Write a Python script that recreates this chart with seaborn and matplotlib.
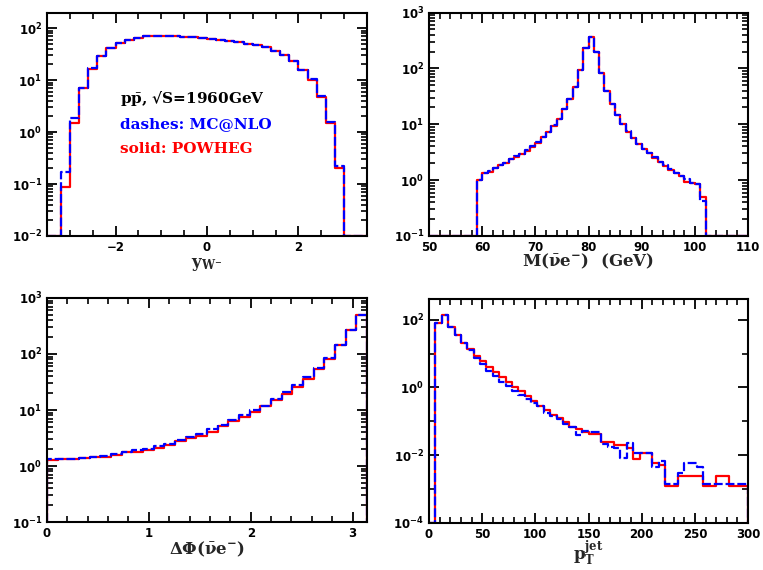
"""
W- production at the Tevatron: MC@NLO (dashes) vs POWHEG (solid).
Four step histograms on log scales, read off the reference figure.
"""

import numpy as np
import seaborn as sns
import matplotlib
matplotlib.use("Agg")
import matplotlib.pyplot as plt
from matplotlib.ticker import MultipleLocator, FixedLocator, NullFormatter

# ---- data -------------------------------------------------------------
# rapidity of the W-, bins of 0.2 from -3.2 to 3.0
yw_edges = np.round(np.arange(-3.2, 3.01, 0.2), 2)
yw_mcnlo = [0.17, 1.87, 7.1, 16.8, 29, 41, 51, 59, 66, 70, 72, 72, 71, 69, 67, 64,
            61, 59, 57, 54, 50, 47, 43, 37, 31, 23.5, 16, 10.4, 4.9, 1.55, 0.22]
yw_powheg = [0.087, 1.5, 7.0, 16.5, 28.5, 41, 51, 59, 66, 70, 72, 72, 71, 69, 67, 64,
             61, 59, 57, 54, 50, 47, 43, 37, 31, 23.5, 16, 10.2, 4.8, 1.5, 0.2]

# transverse mass of the lepton pair, 1 GeV bins from 59 to 102
mass_edges = np.arange(59, 103, 1)
mass_mcnlo = [1.02, 1.35, 1.44, 1.66, 1.9, 2.04, 2.34, 2.65, 2.88, 3.4, 4.0, 4.8,
              5.9, 7.3, 9.6, 12.6, 18.6, 27.9, 47, 94, 230, 360, 193, 82, 40, 22.6,
              14.5, 10.0, 7.6, 5.75, 4.5, 3.65, 3.05, 2.58, 2.1, 1.88, 1.59, 1.35,
              1.2, 1.05, 0.88, 0.85, 0.42]
mass_powheg = [1.02, 1.35, 1.40, 1.66, 1.85, 2.04, 2.34, 2.6, 2.88, 3.3, 3.9, 4.7,
               5.9, 7.3, 9.3, 12.6, 18.6, 27.9, 47, 94, 230, 360, 193, 82, 40, 22.6,
               14.5, 10.0, 7.4, 5.75, 4.4, 3.6, 3.0, 2.45, 2.1, 1.76, 1.5, 1.35,
               1.2, 0.92, 0.88, 0.85, 0.5]

# azimuthal separation, 30 bins between 0 and pi
dphi_edges = np.linspace(0, np.pi, 31)
dphi_mcnlo = [1.32, 1.35, 1.35, 1.4, 1.45, 1.5, 1.67, 1.8, 1.9, 2.05, 2.25, 2.45,
              2.9, 3.3, 3.8, 4.5, 5.5, 6.7, 8.0, 10.0, 12.0, 16.0, 21, 28, 39, 57,
              86, 145, 270, 500]
dphi_powheg = [1.28, 1.35, 1.33, 1.38, 1.45, 1.42, 1.6, 1.75, 1.8, 1.9, 2.1, 2.35,
               2.75, 3.2, 3.5, 4.1, 5.1, 6.3, 7.5, 9.2, 11.7, 15, 19.5, 26, 36, 53,
               81, 142, 265, 490]

# hardest jet pt, 6 GeV bins from 0 to 300
ptj_edges = np.arange(0, 301, 6)
ptj_mcnlo = [0, 80, 141, 63, 36, 20, 13, 7.4, 4.9, 3.1, 2.2, 1.44, 1.07, 0.76,
             0.61, 0.45, 0.34, 0.29, 0.18, 0.139, 0.116, 0.081, 0.067, 0.040,
             0.050, 0.047, 0.047, 0.021, 0.017, 0.016, 0.0083, 0.022, 0.0112,
             0.0112, 0.0112, 0.0043, 0.0068, 0.0014, 0.0014, 0.0029, 0.0057,
             0.0057, 0.0043, 0.0014, 0.0014, 0.0014, 0.0014, 0.0014, 0.0014, 0.0014]
ptj_powheg = [0, 82, 138, 63, 36, 20, 13.8, 8.6, 6.1, 4.1, 2.84, 2.02, 1.44, 1.02,
              0.76, 0.57, 0.39, 0.29, 0.21, 0.156, 0.124, 0.093, 0.067, 0.059,
              0.048, 0.042, 0.042, 0.0237, 0.0237, 0.020, 0.020, 0.016, 0.0074,
              0.0112, 0.0112, 0.0059, 0.0051, 0.0012, 0.0012, 0.0024, 0.0024,
              0.0024, 0.0024, 0.0012, 0.0012, 0.0024, 0.0024, 0.0012, 0.0012, 0.0012]

# ---- style ------------------------------------------------------------
sns.set_theme(style="ticks")
plt.rcParams.update({
    "font.family": ["DejaVu Sans"],
    "font.weight": "bold",
    "mathtext.fontset": "custom",
    "mathtext.rm": "DejaVu Serif:bold",
    "mathtext.bf": "DejaVu Serif:bold",
    "mathtext.it": "DejaVu Serif:italic:bold",
    "axes.linewidth": 1.5,
    "axes.edgecolor": "black",
    "xtick.labelsize": 8.5,
    "ytick.labelsize": 8.5,
})


def step_xy(edges, vals, lo, hi, floor):
    """Outline of a histogram, empty bins pushed onto the lower frame."""
    x = np.concatenate([[lo], edges, [hi]])
    y = np.concatenate([[0], vals, [0, 0]])
    return x, np.maximum(y, floor)


def draw_panel(ax, edges, mcnlo, powheg, xlim, ylim, xlabel, label_y, major, minor):
    x, y = step_xy(edges, powheg, xlim[0], xlim[1], ylim[0])
    sns.lineplot(x=x, y=y, ax=ax, estimator=None, sort=False,
                 drawstyle="steps-post", color="#ff0000", linewidth=1.6)
    x, y = step_xy(edges, mcnlo, xlim[0], xlim[1], ylim[0])
    sns.lineplot(x=x, y=y, ax=ax, estimator=None, sort=False,
                 drawstyle="steps-post", color="#0000ff", linewidth=1.6,
                 linestyle=(0, (4, 1.3)))
    ax.set_yscale("log")
    ax.set_xlim(*xlim)
    ax.set_ylim(*ylim)
    ax.set_xlabel(xlabel, fontsize=12)
    ax.xaxis.set_label_coords(0.5, label_y)
    ax.xaxis.set_major_locator(MultipleLocator(major))
    ax.xaxis.set_minor_locator(MultipleLocator(minor))
    ax.tick_params(which="both", direction="in", top=True, right=True, colors="black")
    ax.tick_params(which="major", length=7, width=1.3)
    ax.tick_params(which="minor", length=4, width=1.2)


fig = plt.figure(figsize=(7.63, 5.70), dpi=100)
ax1 = fig.add_axes([0.0616, 0.586, 0.4194, 0.392])
ax2 = fig.add_axes([0.5623, 0.586, 0.4181, 0.392])
ax3 = fig.add_axes([0.0616, 0.0842, 0.4194, 0.393])
ax4 = fig.add_axes([0.5623, 0.0830, 0.4181, 0.393])

draw_panel(ax1, yw_edges, yw_mcnlo, yw_powheg, (-3.5, 3.5), (1e-2, 200),
           r"$\mathbf{y_{W^{-}}}$", -0.085, 2, 0.5)
ax1.text(0.228, 0.594, r"$\mathbf{p\bar{p}}$, √S=1960GeV", transform=ax1.transAxes,
         family="DejaVu Serif", fontsize=11, color="black")
ax1.text(0.228, 0.482, "dashes: MC@NLO", transform=ax1.transAxes,
         family="DejaVu Serif", fontsize=11, color="#0000ff")
ax1.text(0.228, 0.371, "solid: POWHEG", transform=ax1.transAxes,
         family="DejaVu Serif", fontsize=11, color="#ff0000")

draw_panel(ax2, mass_edges, mass_mcnlo, mass_powheg, (50, 110), (0.1, 1000),
           r"$\mathbf{M(\bar{\nu}e^{-})\ \ (GeV)}$", -0.07, 10, 2)

draw_panel(ax3, dphi_edges, dphi_mcnlo, dphi_powheg, (0, np.pi), (0.1, 1000),
           r"$\mathbf{\Delta\Phi(\bar{\nu}e^{-})}$", -0.08, 1, 0.2)

draw_panel(ax4, ptj_edges, ptj_mcnlo, ptj_powheg, (0, 300), (1e-4, 420),
           r"$\mathbf{p_{T}^{jet}}$", -0.075, 50, 10)
ax4.yaxis.set_major_locator(FixedLocator([1e-4, 1e-2, 1, 1e2]))
ax4.yaxis.set_minor_locator(FixedLocator([1e-3, 1e-1, 10]))
ax4.yaxis.set_minor_formatter(NullFormatter())

fig.savefig("out.png", dpi=100)
